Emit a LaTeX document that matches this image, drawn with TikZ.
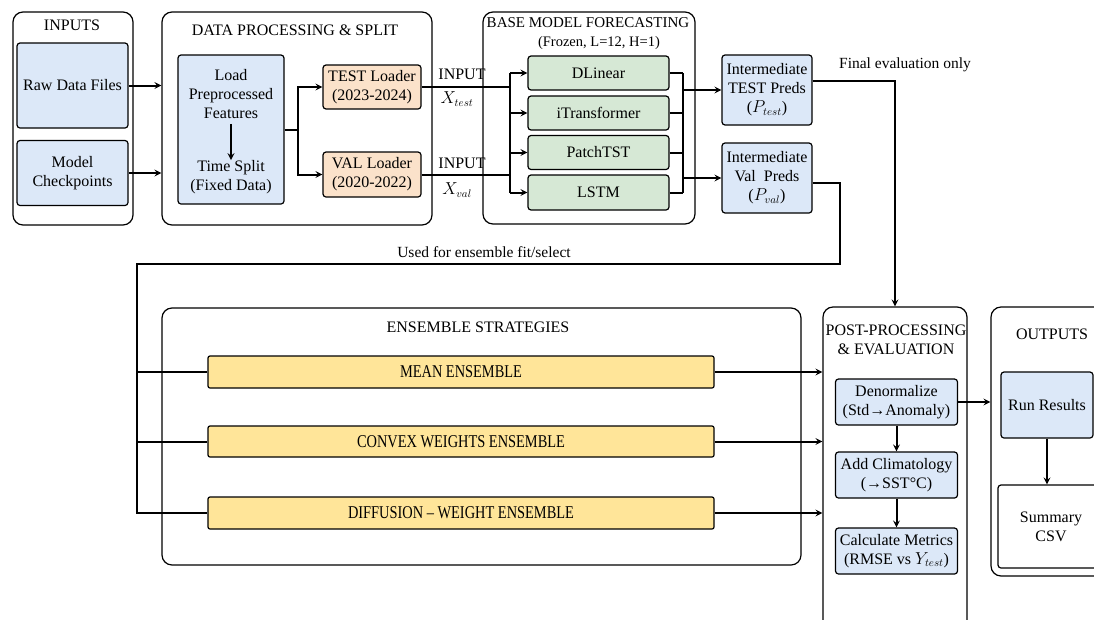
\documentclass[tikz,border=0pt]{standalone}
\usepackage{fontspec}
\setmainfont{Liberation Serif}
\newfontfamily\condfont{Liberation Serif}[FakeStretch=0.8]
\usetikzlibrary{arrows.meta}
\tikzset{>=stealth}

\definecolor{inblue}{RGB}{220,232,248}
\definecolor{loadpeach}{RGB}{251,226,202}
\definecolor{modelgreen}{RGB}{214,232,213}
\definecolor{ensyellow}{RGB}{255,229,153}

\tikzset{
  group/.style={draw, rounded corners=10pt, line width=1.2pt},
  plainbox/.style={draw, rounded corners=3pt, line width=1.2pt, align=center, inner sep=0pt},
  bluebox/.style={plainbox, fill=inblue},
  loadbox/.style={plainbox, fill=loadpeach},
  modelbox/.style={plainbox, fill=modelgreen},
  ensbox/.style={plainbox, rounded corners=2pt, fill=ensyellow, font=\condfont\fontsize{18}{20}\selectfont},
  title/.style={align=center, inner sep=0pt},
  note/.style={inner sep=0pt, font=\fontsize{15.5}{18}\selectfont},
  link/.style={line width=2pt},
  flow/.style={->, line width=2pt}
}

\begin{document}
\begin{tikzpicture}[x=1pt, y=-1pt, font=\fontsize{16}{19}\selectfont]
\clip (0,0) rectangle (1094,619);

% inputs
\node[group, minimum width=120pt, minimum height=213pt] (inputs) at (73,118.5) {};
\node[title] (inputsT) at (72,25) {INPUTS};
\node[bluebox, minimum width=111pt, minimum height=85pt] (raw) at (72.5,85.5) {Raw Data Files};
\node[bluebox, minimum width=111pt, minimum height=65pt] (ckpt) at (72.5,173) {Model\\Checkpoints};

% data processing
\node[group, minimum width=270pt, minimum height=213pt] (dataproc) at (297,118.5) {};
\node[title] (dataprocT) at (295,30) {DATA PROCESSING \& SPLIT};
\node[bluebox, minimum width=106pt, minimum height=149pt] (load) at (231,129.5) {};
\node[title] (loadtxt) at (231,94) {Load\\Preprocessed\\Features};
\node[title] (splittxt) at (231,177) {Time Split\\(Fixed Data)};
\node[loadbox, minimum width=98pt, minimum height=44pt] (testload) at (372,87) {TEST Loader\\(2023-2024)};
\node[loadbox, minimum width=98pt, minimum height=45pt] (valload) at (372,174.5) {VAL Loader\\(2020-2022)};

% base models
\node[group, minimum width=212pt, minimum height=212pt] (base) at (589,118) {};
\node[title, font=\fontsize{15}{18}\selectfont] (baseT) at (588,23) {BASE MODEL FORECASTING};
\node[title, font=\fontsize{14.5}{17}\selectfont] (baseS) at (599,43) {(Frozen, L=12, H=1)};
\node[modelbox, minimum width=141pt, minimum height=34pt] (dlinear) at (598.5,73) {DLinear};
\node[modelbox, minimum width=141pt, minimum height=34pt] (itrans) at (598.5,113) {iTransformer};
\node[modelbox, minimum width=141pt, minimum height=34pt] (patch) at (598.5,152.5) {PatchTST};
\node[modelbox, minimum width=141pt, minimum height=35pt] (lstm) at (598.5,192.5) {LSTM};

\node[bluebox, minimum width=90pt, minimum height=70pt] (testpreds) at (767,90) {Intermediate\\TEST Preds\\(\(P_{test}\))};
\node[bluebox, minimum width=90pt, minimum height=70pt] (valpreds) at (767,178) {Intermediate\\Val\ \ Preds\\(\(P_{val}\))};

% ensembles
\node[group, minimum width=639pt, minimum height=257pt] (ens) at (481.5,436.5) {};
\node[title] (ensT) at (478,327) {ENSEMBLE STRATEGIES};
\node[ensbox, minimum width=506pt, minimum height=32pt] (meanens) at (461,372) {MEAN ENSEMBLE};
\node[ensbox, minimum width=506pt, minimum height=31pt] (convexens) at (461,441.5) {CONVEX WEIGHTS ENSEMBLE};
\node[ensbox, minimum width=506pt, minimum height=32pt] (diffens) at (461,513) {DIFFUSION – WEIGHT ENSEMBLE};

% post-processing
\node[group, minimum width=144pt, minimum height=328pt] (post) at (895,471) {};
\node[title] (postT) at (896,339.5) {POST-PROCESSING\\\& EVALUATION};
\node[bluebox, minimum width=122pt, minimum height=46pt] (denorm) at (896.5,402) {Denormalize\\(Std→Anomaly)};
\node[bluebox, minimum width=122pt, minimum height=46pt] (addclim) at (896.5,475) {Add Climatology\\(→SST°C)};
\node[bluebox, minimum width=122pt, minimum height=46pt] (metrics) at (896.5,551) {Calculate Metrics\\(RMSE vs \(Y_{test}\))};

% outputs
\node[group, minimum width=122pt, minimum height=269pt] (outputs) at (1052,441.5) {};
\node[title] (outputsT) at (1052,334) {OUTPUTS};
\node[bluebox, minimum width=92pt, minimum height=66pt] (runres) at (1047,405) {Run Results};
\node[plainbox, minimum width=106pt, minimum height=83pt] (summary) at (1051,526.5) {Summary\\CSV};

% labels
\node[title] (inT) at (462,74) {INPUT};
\node[title] (xtest) at (457,99) {\(X_{test}\)};
\node[title] (inV) at (462,163) {INPUT};
\node[title] (xval) at (457,190) {\(X_{val}\)};
\node[note] (finalL) at (905,65) {Final evaluation only};
\node[note] (fitL) at (484,252) {Used for ensemble fit/select};

% connectors
\draw[flow] (raw.east) -- (raw.east -| dataproc.west);
\draw[flow] (ckpt.east) -- (ckpt.east -| dataproc.west);
\draw[flow, shorten <=5pt] (loadtxt.south) -- (splittxt.north);
\draw[link] (load.east) -- ++(13,0) coordinate (split);
\draw[flow] (split) |- (testload.west);
\draw[flow] (split) |- (valload.west);

\coordinate (fanin) at (510,87);
\draw[link] (testload.east) -- (fanin);
\draw[link] (valload.east) -- (valload.east -| fanin);
\draw[link] (dlinear.west -| fanin) -- (lstm.west -| fanin);
\foreach \m in {dlinear,itrans,patch,lstm}
  \draw[flow] (\m.west -| fanin) -- (\m.west);

\coordinate (fanout) at (683,90);
\foreach \m in {dlinear,itrans,patch,lstm}
  \draw[link] (\m.east) -- (\m.east -| fanout);
\draw[link] (dlinear.east -| fanout) -- (lstm.east -| fanout);
\draw[flow] (fanout) -- (testpreds.west);
\draw[flow] (valpreds.west -| fanout) -- (valpreds.west);

\draw[flow] ([yshift=9pt]testpreds.east) -| (post.north);

\coordinate (fitR) at (840,264);
\coordinate (fitLft) at (137,264);
\draw[link] ([yshift=-5pt]valpreds.east) -| (fitR) -- (fitLft) |- (diffens.west);
\draw[link] (fitLft |- meanens.west) -- (meanens.west);
\draw[link] (fitLft |- convexens.west) -- (convexens.west);

\foreach \e in {meanens,convexens,diffens}
  \draw[flow] (\e.east) -- (\e.east -| post.west);

\draw[flow] (denorm.south) -- (addclim.north);
\draw[flow] (addclim.south) -- (metrics.north);
\draw[flow] (denorm.east) -- (denorm.east -| outputs.west);
\draw[flow] (runres.south) -- (runres.south |- summary.north);
\end{tikzpicture}
\end{document}
